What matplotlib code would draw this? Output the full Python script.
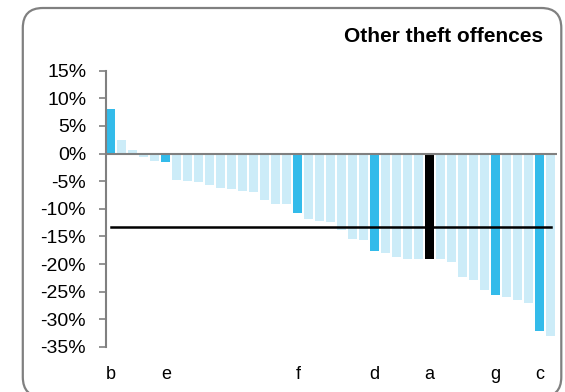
import matplotlib

matplotlib.use("Agg")
import matplotlib.pyplot as plt
from matplotlib.patches import FancyBboxPatch
import numpy as np

plt.rcParams["font.family"] = ["Liberation Sans", "DejaVu Sans"]

# percentage change per area, sorted high to low
values = [
    8.1, 2.5, 0.7, -0.7, -1.3, -1.6, -4.8, -4.9, -5.1, -5.7,
    -6.2, -6.4, -6.8, -6.9, -8.4, -9.1, -9.1, -10.7, -11.8, -12.2,
    -12.4, -13.8, -15.5, -15.6, -17.6, -18.0, -18.7, -19.1, -19.1, -19.1,
    -19.1, -19.6, -22.3, -22.9, -24.7, -25.6, -26.0, -26.5, -27.1, -32.1,
    -33.0,
]
# labelled bars: index -> label
highlight = {0: "b", 5: "e", 17: "f", 24: "d", 29: "a", 35: "g", 39: "c"}
target = "a"
average = -13.2
y_ticks = [15, 10, 5, 0, -5, -10, -15, -20, -25, -30, -35]

LIGHT = "#CCECF8"
DARK = "#33BBEA"

fig = plt.figure(figsize=(5.65, 3.92), dpi=100)
ax = fig.add_axes([0.187, 0.1148, 0.798, 0.705])

x = np.arange(len(values))
colors = []
for i in x:
    label = highlight.get(i)
    if label is None:
        colors.append(LIGHT)
    elif label == target:
        colors.append("black")
    else:
        colors.append(DARK)
ax.bar(x, values, width=0.82, color=colors, zorder=2)

ax.axhline(0, color="#808080", linewidth=1.5, zorder=3)
ax.plot([x[0], x[-1]], [average, average], color="black", linewidth=1.8, zorder=4)

ax.set_xlim(-0.47, len(values) - 0.47)
ax.set_ylim(-35, 15)
ax.set_yticks(y_ticks)
ax.set_yticklabels([f"{v}%" for v in y_ticks])
ax.set_xticks(list(highlight.keys()))
ax.set_xticklabels(list(highlight.values()))

ax.tick_params(axis="y", direction="out", length=5, width=1.2, color="#808080",
               labelsize=14, pad=9)
ax.tick_params(axis="x", length=0, labelsize=13, pad=14)
for side in ("top", "right", "bottom"):
    ax.spines[side].set_visible(False)
ax.spines["left"].set_color("#808080")
ax.spines["left"].set_linewidth(1.5)

fig.text(0.961, 0.906, "Other theft offences", ha="right", va="center",
         fontsize=15, fontweight="bold")

border = FancyBboxPatch(
    (0.228, -0.05), 5.385, 3.89,
    boxstyle="round,pad=0,rounding_size=0.2",
    transform=fig.dpi_scale_trans, facecolor="none",
    edgecolor="#808080", linewidth=1.6,
)
fig.patches.append(border)

fig.savefig("out.png", dpi=100)
